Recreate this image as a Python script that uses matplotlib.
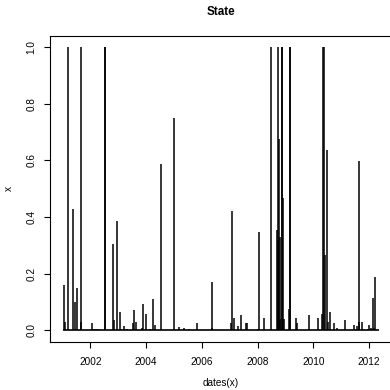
#!/usr/bin/env python3
"""State probability spikes over time, R base-graphics look."""

import matplotlib
matplotlib.use("Agg")
import matplotlib.pyplot as plt

# spike positions (decimal year) and heights
SPIKE_DATES = [
    2001.04, 2001.10, 2001.20, 2001.38, 2001.43, 2001.51, 2001.65, 2001.67,
    2002.06, 2002.12, 2002.20, 2002.28, 2002.51, 2002.53, 2002.82, 2002.84,
    2002.96, 2003.07, 2003.10, 2003.22, 2003.30, 2003.54, 2003.57, 2003.63,
    2003.86, 2003.90, 2004.01, 2004.14, 2004.26, 2004.32, 2004.55, 2004.99,
    2005.19, 2005.36, 2005.55, 2005.81, 2006.35, 2006.38, 2007.05, 2007.10,
    2007.14, 2007.28, 2007.39, 2007.58, 2007.61, 2008.03, 2008.05, 2008.23,
    2008.47, 2008.69, 2008.72, 2008.75, 2008.76, 2008.79, 2008.81, 2008.86,
    2008.89, 2008.92, 2008.96, 2009.13, 2009.15, 2009.17, 2009.39, 2009.42,
    2009.83, 2010.16, 2010.31, 2010.35, 2010.38, 2010.43, 2010.50, 2010.54,
    2010.59, 2010.73, 2010.85, 2011.15, 2011.45, 2011.57, 2011.63, 2011.65,
    2011.76, 2011.98, 2012.01, 2012.09, 2012.13, 2012.18, 2012.23,
]
SPIKE_VALUES = [
    0.16, 0.03, 1.00, 0.43, 0.10, 0.15, 1.00, 0.03,
    0.025, 0.005, 0.005, 0.005, 1.00, 1.00, 0.305, 0.035,
    0.386, 0.065, 0.005, 0.015, 0.005, 0.025, 0.07, 0.03,
    0.008, 0.092, 0.058, 0.005, 0.112, 0.02, 0.588, 0.75,
    0.01, 0.008, 0.005, 0.027, 0.008, 0.17, 0.027, 0.42,
    0.045, 0.015, 0.055, 0.025, 0.025, 0.005, 0.347, 0.045,
    1.00, 0.354, 0.32, 1.00, 0.675, 0.04, 0.33, 1.00,
    1.00, 0.466, 0.04, 0.075, 1.00, 1.00, 0.045, 0.025,
    0.055, 0.045, 0.058, 1.00, 1.00, 0.265, 0.637, 0.03,
    0.065, 0.027, 0.008, 0.035, 0.02, 0.015, 0.598, 0.03,
    0.03, 0.005, 0.02, 0.008, 0.115, 0.008, 0.19,
]
SERIES_START = 2001.0
SERIES_END = 2012.37

X_TICKS = [2002, 2004, 2006, 2008, 2010, 2012]
Y_TICKS = [0.0, 0.2, 0.4, 0.6, 0.8, 1.0]

plt.rcParams.update({
    "font.family": ["Liberation Sans", "DejaVu Sans"],
    "font.size": 7.2,
})

fig = plt.figure(figsize=(3.9, 3.9), dpi=100)
ax = fig.add_axes([0.128, 0.124, 0.877, 0.784])

ax.hlines(0, SERIES_START, SERIES_END, color="black", linewidth=1.2)
ax.vlines(SPIKE_DATES, 0, SPIKE_VALUES, color="black", linewidth=1.1)

# R pads the data range by 4% on each side
span = SERIES_END - SERIES_START
ax.set_xlim(SERIES_START - 0.04 * span, SERIES_END + 0.04 * span)
ax.set_ylim(-0.04, 1.04)

ax.set_xticks(X_TICKS)
ax.set_xticklabels([str(t) for t in X_TICKS])
ax.set_yticks(Y_TICKS)
ax.set_yticklabels([f"{t:.1f}" for t in Y_TICKS], rotation=90, va="center")
ax.tick_params(direction="out", length=4.5, width=0.8, color="black")
ax.tick_params(axis="x", pad=6.5)
ax.tick_params(axis="y", pad=5)

for spine in ax.spines.values():
    spine.set_linewidth(0.8)
    spine.set_color("black")

ax.set_xlabel("dates(x)", labelpad=8)
ax.set_ylabel("x", labelpad=9)
ax.set_title("State", fontweight="bold", fontsize=8.4, pad=15)

fig.savefig("out.png", dpi=100)
